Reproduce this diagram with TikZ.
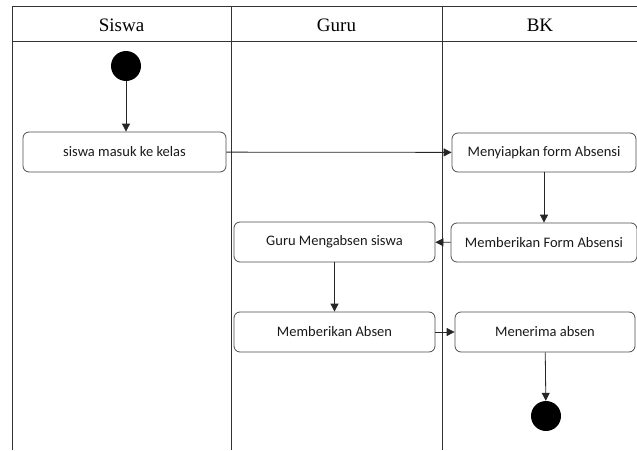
\documentclass[tikz,border=0pt]{standalone}
\usepackage{fontspec}
\setmainfont{Liberation Serif}
\newfontfamily\boxfont{Carlito}
\usetikzlibrary{arrows.meta}
\begin{document}
\begin{tikzpicture}[x=1pt, y=-1pt,
	lane/.style = {draw=black!80, line width=0.8pt},
	act/.style = {draw=black!70, rounded corners=6pt, line width=0.8pt, minimum height=40pt, font=\boxfont\fontsize{14.5}{17}\selectfont, text=black!90},
	dot/.style = {circle, fill=black, minimum size=30pt, inner sep=0pt},
	flow/.style = {-{Triangle[length=8pt, width=8pt]}, line width=0.8pt, black!85}]
	\useasboundingbox (0,0) rectangle (637,450);
	% lanes
	\draw[lane] (12,450) -- (12,6) -- (637,6);
	\draw[lane] (12,41) -- (637,41);
	\draw[lane] (231,6) -- (231,450);
	\draw[lane] (442,6) -- (442,450);
	\node[font=\fontsize{19}{22}\selectfont] (hsiswa) at (121.5,25) {Siswa};
	\node[font=\fontsize{19}{22}\selectfont] (hguru) at (336.5,25) {Guru};
	\node[font=\fontsize{19}{22}\selectfont] (hbk) at (540,25) {BK};
	% activities
	\node[dot] (start) at (126,66) {};
	\node[act, minimum width=203pt] (masuk) at (124.5,152) {siswa masuk ke kelas};
	\node[act, minimum width=184pt, minimum height=39pt] (siap) at (544,152.5) {Menyiapkan form Absensi};
	\node[act, minimum width=186pt, minimum height=39pt] (beriform) at (544,242.5) {Memberikan Form Absensi};
	\node[act, minimum width=201pt] (guruabsen) at (334.5,242) {Guru Mengabsen siswa};
	\node[act, minimum width=201pt] (beriabsen) at (334.5,332) {Memberikan Absen};
	\node[act, minimum width=180pt] (terima) at (545,332) {Menerima absen};
	\node[dot] (end) at (546,416) {};
	% flows
	\draw[flow] (start) -- (start |- masuk.north);
	\draw[flow] (masuk) -- (siap);
	\draw[flow] (siap) -- (beriform);
	\draw[flow] (beriform) -- (guruabsen);
	\draw[flow] (guruabsen) -- (beriabsen);
	\draw[flow] (beriabsen) -- (terima);
	\draw[flow] (terima) -- (end);
\end{tikzpicture}
\end{document}
